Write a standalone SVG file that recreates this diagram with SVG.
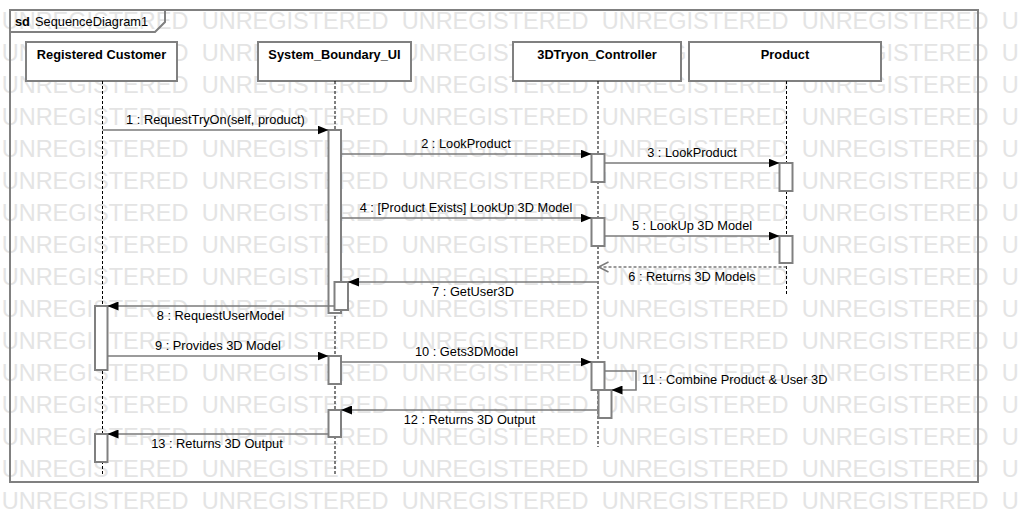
<svg xmlns="http://www.w3.org/2000/svg" xmlns:xlink="http://www.w3.org/1999/xlink" width="1018" height="522" viewBox="0 0 1018 522">
<style>
.wm{font-family:"Liberation Sans",Arial,sans-serif;font-size:23.5px;fill:#e4e4e4}
.frame{fill:none;stroke:#808080;stroke-width:2}
.head{fill:#fff;stroke:#808080;stroke-width:2}
.bar{fill:#fff;stroke:#808080;stroke-width:2}
.life{fill:none;stroke:#000;stroke-width:1;stroke-dasharray:3,2}
.hl{font-family:"Liberation Sans",Arial,sans-serif;font-size:12.8px;font-weight:bold;fill:#000;text-anchor:middle}
.lbl{font-family:"Liberation Sans",Arial,sans-serif;font-size:12.8px;fill:#000;text-anchor:middle}
.msg{fill:none;stroke:#7a7a7a;stroke-width:1.6;marker-end:url(#arr)}
.ret{fill:none;stroke:#7a7a7a;stroke-width:1.4;stroke-dasharray:3,2;marker-end:url(#open)}
</style>
<defs>
<marker id="arr" markerUnits="userSpaceOnUse" markerWidth="11" markerHeight="9" refX="11" refY="4.5" orient="auto">
<path d="M0,0 L11,4.5 L0,9 z" fill="#000"/>
</marker>
<marker id="open" markerUnits="userSpaceOnUse" markerWidth="12" markerHeight="12" refX="10" refY="5" orient="auto" overflow="visible">
<path d="M0,0 L10,5 L0,10" fill="none" stroke="#7a7a7a" stroke-width="1.4"/>
</marker>
<text id="wmrow" class="wm" x="1.7" y="0">UNREGISTERED<tspan x="201.7">UNREGISTERED</tspan><tspan x="401.7">UNREGISTERED</tspan><tspan x="601.7">UNREGISTERED</tspan><tspan x="801.7">UNREGISTERED</tspan><tspan x="1001.7">U</tspan></text>
</defs>
<g id="watermark">
<use xlink:href="#wmrow" y="29"/>
<use xlink:href="#wmrow" y="61"/>
<use xlink:href="#wmrow" y="93"/>
<use xlink:href="#wmrow" y="125"/>
<use xlink:href="#wmrow" y="157"/>
<use xlink:href="#wmrow" y="189"/>
<use xlink:href="#wmrow" y="221"/>
<use xlink:href="#wmrow" y="253"/>
<use xlink:href="#wmrow" y="285"/>
<use xlink:href="#wmrow" y="317"/>
<use xlink:href="#wmrow" y="349"/>
<use xlink:href="#wmrow" y="381"/>
<use xlink:href="#wmrow" y="413"/>
<use xlink:href="#wmrow" y="445"/>
<use xlink:href="#wmrow" y="477"/>
<use xlink:href="#wmrow" y="509"/>
</g>
<g id="frame">
<rect class="frame" x="10" y="10" width="968" height="472"/>
<path class="frame" d="M10,32 H155 L165,22 V10"/>
<text x="15" y="26" font-family="Liberation Sans, Arial, sans-serif" font-size="12.8" fill="#000"><tspan font-weight="bold">sd</tspan><tspan x="35">SequenceDiagram1</tspan></text>
</g>
<g id="registered_customer">
<rect class="head" x="26" y="42" width="151" height="39"/>
<text class="hl" x="101.5" y="59">Registered Customer</text>
<line class="life" x1="102.5" y1="81" x2="102.5" y2="475"/>
<rect class="bar" x="95" y="306" width="12.5" height="64"/>
<rect class="bar" x="95" y="434" width="12.5" height="28"/>
</g>
<g id="system_boundary_ui">
<rect class="head" x="258" y="42" width="153" height="39"/>
<text class="hl" x="334.5" y="59">System_Boundary_UI</text>
<line class="life" x1="335" y1="81" x2="335" y2="475"/>
<rect class="bar" x="328.5" y="130" width="12.5" height="183"/>
<rect class="bar" x="334.5" y="282" width="13.5" height="28"/>
<rect class="bar" x="328.5" y="356" width="12.5" height="28"/>
<rect class="bar" x="328.5" y="410" width="12.5" height="27"/>
</g>
<g id="tryon_controller">
<rect class="head" x="513" y="42" width="168" height="39"/>
<text class="hl" x="597" y="59">3DTryon_Controller</text>
<line class="life" x1="598" y1="81" x2="598" y2="447"/>
<rect class="bar" x="591.5" y="154" width="13" height="28"/>
<rect class="bar" x="591.5" y="218" width="13" height="28"/>
<rect class="bar" x="591.5" y="362" width="13" height="28"/>
<rect class="bar" x="598.5" y="390" width="13" height="28"/>
</g>
<g id="product">
<rect class="head" x="689" y="42" width="192" height="39"/>
<text class="hl" x="785" y="59">Product</text>
<line class="life" x1="786.5" y1="81" x2="786.5" y2="296"/>
<rect class="bar" x="779.5" y="163" width="13" height="28"/>
<rect class="bar" x="779.5" y="236" width="13" height="27"/>
</g>
<g id="connectors">
<line class="msg" x1="102.5" y1="130" x2="328.5" y2="130"/>
<text class="lbl" x="215.5" y="124">1 : RequestTryOn(self, product)</text>
<line class="msg" x1="341" y1="154" x2="591.5" y2="154"/>
<text class="lbl" x="466" y="148">2 : LookProduct</text>
<line class="msg" x1="604.5" y1="163" x2="779.5" y2="163"/>
<text class="lbl" x="692" y="157">3 : LookProduct</text>
<line class="msg" x1="341" y1="218" x2="591.5" y2="218"/>
<text class="lbl" x="466" y="212">4 : [Product Exists] LookUp 3D Model</text>
<line class="msg" x1="604.5" y1="236" x2="779.5" y2="236"/>
<text class="lbl" x="692" y="230">5 : LookUp 3D Model</text>
<line class="ret" x1="786.5" y1="267" x2="598.5" y2="267"/>
<text class="lbl" x="692" y="281">6 : Returns 3D Models</text>
<line class="msg" x1="598" y1="282" x2="348" y2="282"/>
<text class="lbl" x="473" y="296">7 : GetUser3D</text>
<line class="msg" x1="334.5" y1="306" x2="107.5" y2="306"/>
<text class="lbl" x="220.5" y="320">8 : RequestUserModel</text>
<line class="msg" x1="107.5" y1="356" x2="328.5" y2="356"/>
<text class="lbl" x="218" y="350">9 : Provides 3D Model</text>
<line class="msg" x1="341" y1="362" x2="591.5" y2="362"/>
<text class="lbl" x="466.5" y="356">10 : Gets3DModel</text>
<path class="msg" d="M604.5,371 H636 V390 H611.5"/>
<text class="lbl" x="642" y="384" text-anchor="start" style="text-anchor:start">11 : Combine Product &amp; User 3D</text>
<line class="msg" x1="598.5" y1="410" x2="341" y2="410"/>
<text class="lbl" x="469.5" y="424">12 : Returns 3D Output</text>
<line class="msg" x1="328.5" y1="434" x2="107.5" y2="434"/>
<text class="lbl" x="217" y="448">13 : Returns 3D Output</text>
</g>
</svg>
